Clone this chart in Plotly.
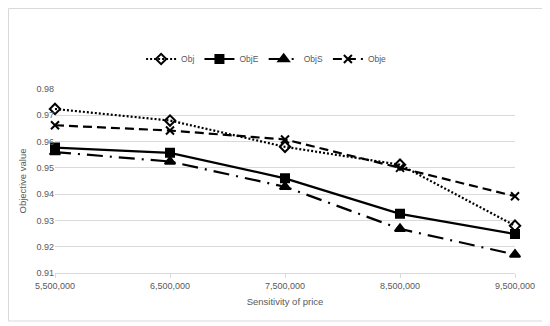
import plotly.graph_objects as go

x_vals = [5500000, 6500000, 7500000, 8500000, 9500000]
obj = [0.9724, 0.9680, 0.9580, 0.9512, 0.9280]
objE = [0.9577, 0.9557, 0.9460, 0.9325, 0.9248]
objS = [0.9560, 0.9524, 0.9428, 0.9268, 0.9170]
obje = [0.9662, 0.9642, 0.9608, 0.9500, 0.9392]
y_ticks = [0.91, 0.92, 0.93, 0.94, 0.95, 0.96, 0.97, 0.98]

# page is offset by the 8px body margin
W, H = 542, 318
ml, mr, mt, mb = 47, 35, 81, 53

fig = go.Figure()
series = [
    ("Obj", obj, "2px,2px", "diamond-open", 8),
    ("ObjE", objE, "solid", "square", 8),
    ("ObjS", objS, "16px,7px,2px,7px", "triangle-up", 9),
    ("Obje", obje, "9px,5px", "x-thin-open", 8),
]
for name, ys, dash, sym, sz in series:
    fig.add_trace(go.Scatter(
        x=x_vals, y=ys, name=name, mode="lines+markers",
        line=dict(color="black", width=2.2, dash=dash),
        marker=dict(symbol=sym, size=sz, color="black",
                    line=dict(color="black", width=2)),
        cliponaxis=False,
    ))

pw = W - ml - mr
ph = H - mt - mb
fig.add_shape(type="rect", xref="paper", yref="paper",
              x0=(0.5 - ml) / pw, x1=(537 - ml) / pw,
              y0=(H - mb - 313) / ph, y1=(H - mb - 0.5) / ph,
              line=dict(color="#d9d9d9", width=1), fillcolor="rgba(0,0,0,0)")

fig.update_layout(
    width=W, height=H,
    margin=dict(l=ml, r=mr, t=mt, b=mb),
    paper_bgcolor="white", plot_bgcolor="white",
    font=dict(family="Liberation Sans", size=9, color="#595959"),
    showlegend=True,
    legend=dict(orientation="h", x=0.46, xanchor="center", y=(H - mb - 51) / ph,
                yanchor="middle", font=dict(size=8.5, color="#595959"),
                itemwidth=30, tracegroupgap=0),
    xaxis=dict(range=[5500000, 9500000], tickvals=x_vals,
               ticktext=[f"{v:,}" for v in x_vals],
               showgrid=False, showline=True, linecolor="#d9d9d9",
               ticks="outside", ticklen=4, tickcolor="#d9d9d9",
               title=dict(text="Sensitivity of price", font=dict(size=9.5), standoff=8),
               zeroline=False),
    yaxis=dict(range=[0.91, 0.98], tickvals=y_ticks,
               ticktext=[f"{v:.2f}" for v in y_ticks],
               showgrid=True, gridcolor="#d9d9d9", gridwidth=1,
               showline=False, zeroline=False,
               title=dict(text="Objective value", font=dict(size=9.5), standoff=8)),
)

fig.write_html("out.html")
